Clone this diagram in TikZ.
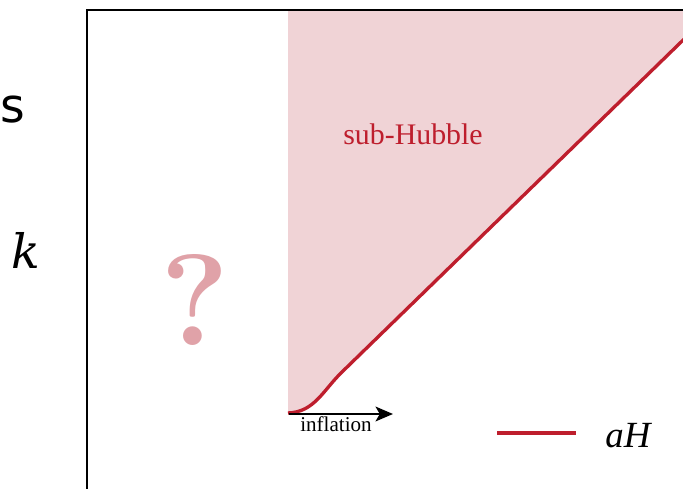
\documentclass[tikz,border=0pt]{standalone}
\usepackage{fontspec}
\setmainfont{Liberation Serif}
\newfontfamily\sidefont{DejaVu Sans}
\newfontfamily\kfont{DejaVu Serif}
\newfontfamily\qfont{Latin Modern Roman}
\usetikzlibrary{arrows.meta}
\definecolor{subfill}{RGB}{240,211,214}
\definecolor{hubblered}{RGB}{190,30,45}
\definecolor{qpink}{RGB}{224,162,168}

\begin{document}
\begin{tikzpicture}[x=0.02cm,y=-0.02cm,
    hubble/.style={draw=hubblered,line width=1.9pt},
    frame/.style={draw=black,line width=0.9pt},
    lbl/.style={inner sep=0pt,anchor=base}]

\clip (0,0) rectangle (683,489);

% horizon crossing curve
\coordinate (start) at (288,413);
\coordinate (bend) at (342,372);
\coordinate (exit) at (714,10);

\fill[subfill] (start) to[out=2,in=224] (bend) -- (exit) -- (288,10) -- cycle;
\draw[hubble] (start) to[out=2,in=224] (bend) -- (exit);

% axes box
\draw[frame] (87,500) -- (87,10) -- (700,10);

\node[lbl,text=hubblered,font=\fontsize{17}{17}\selectfont] (sub) at (413,145) {sub-Hubble};
\node[lbl,text=qpink,font=\fontsize{74}{74}\qfont\bfseries] (quest) at (195,346) {?};

% inflation arrow
\coordinate (inflA) at (289,414);
\coordinate (inflB) at (393,414);
\draw[line width=0.8pt,-{Stealth[length=10pt,width=8.5pt,inset=2.5pt]}] (inflA) -- (inflB);
\node[lbl,font=\fontsize{12}{12}\selectfont] (infl) at (336,432) {inflation};

% legend
\coordinate (legA) at (497,433);
\coordinate (legB) at (576,433);
\draw[hubble] (legA) -- (legB);
\node[lbl,anchor=base west,font=\fontsize{21}{21}\selectfont\itshape] (aH) at (605,447) {aH};

% side labels
\node[lbl,anchor=base west,font=\fontsize{27}{27}\sidefont] (s) at (0,123) {s};
\node[lbl,font=\fontsize{27}{27}\kfont\itshape] (k) at (26,269) {k};

\end{tikzpicture}
\end{document}
